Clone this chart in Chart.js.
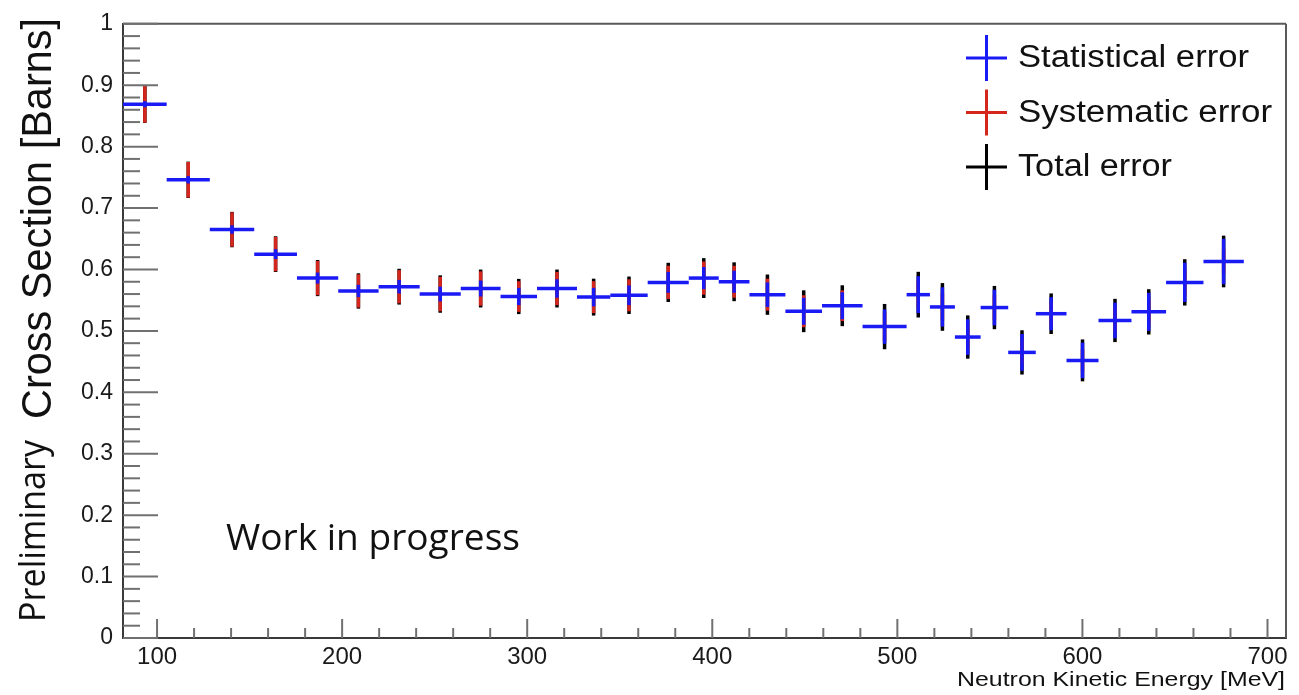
<!DOCTYPE html>
<html>
<head>
<meta charset="utf-8">
<title>Preliminary Cross Section</title>
<script src="https://cdn.jsdelivr.net/npm/chart.js@4.4.0/dist/chart.umd.min.js"></script>
<style>
html, body { margin: 0; padding: 0; background: #fff; }
canvas { display: block; }
</style>
</head>
<body>
<canvas id="chart" width="1299" height="695"></canvas>
<script>
// bin edges [MeV] (31 bins)
var binEdges = [81.6, 105.2, 128.5, 152.5, 175.6, 197.9, 219.7, 241.9, 264.1, 285.6,
    305.3, 326.9, 344.9, 365.1, 387.3, 403.5, 420.1, 439.5, 459.3, 481.2,
    505.0, 517.6, 531.1, 545.0, 559.9, 574.8, 591.4, 608.7, 626.5, 645.2,
    665.4, 687.2];
// cross section [barns]
var crossSection = [0.869, 0.746, 0.665, 0.625, 0.586, 0.565, 0.572, 0.560, 0.569, 0.556,
    0.569, 0.555, 0.558, 0.579, 0.586, 0.580, 0.559, 0.532, 0.541, 0.507,
    0.559, 0.539, 0.490, 0.538, 0.465, 0.528, 0.452, 0.517, 0.531, 0.579, 0.613];
var statErr = [0.005, 0.006, 0.007, 0.008, 0.009, 0.010, 0.011, 0.012, 0.013, 0.014,
    0.015, 0.015, 0.016, 0.017, 0.018, 0.018, 0.020, 0.022, 0.022, 0.028,
    0.030, 0.032, 0.029, 0.029, 0.030, 0.027, 0.029, 0.029, 0.031, 0.032, 0.037];
var sysErr = [0.030, 0.029, 0.028, 0.028, 0.028, 0.027, 0.027, 0.028, 0.028, 0.025,
    0.027, 0.026, 0.026, 0.027, 0.027, 0.026, 0.026, 0.026, 0.025, 0.024,
    0.022, 0.022, 0.020, 0.020, 0.020, 0.019, 0.018, 0.020, 0.020, 0.020, 0.020];
var xTicks = [100, 200, 300, 400, 500, 600, 700];
var yTicks = [0, 0.1, 0.2, 0.3, 0.4, 0.5, 0.6, 0.7, 0.8, 0.9, 1];
var seriesNames = ['Statistical error', 'Systematic error', 'Total error'];
var seriesColors = ['#1a1af5', '#d4261c', '#000000'];

// total = stat (+) sys in quadrature
var totErr = statErr.map(function(s, i) { return Math.sqrt(s * s + sysErr[i] * sysErr[i]); });
var points = crossSection.map(function(v, i) {
    return { x: (binEdges[i] + binEdges[i + 1]) / 2, y: v };
});
var errors = [statErr, sysErr, totErr];

var HELV = '"Liberation Sans", Arial, sans-serif';
var OPEN = '"Open Sans", sans-serif';

// draws text squeezed/stretched to a given width (start of baseline at x,y)
function fitText(ctx, text, x, y, family, size, width, rotate) {
    ctx.save();
    ctx.font = size + 'px ' + family;
    var w = ctx.measureText(text).width;
    ctx.translate(x, y);
    if (rotate) ctx.rotate(-Math.PI / 2);
    ctx.scale(width / w, 1);
    ctx.fillStyle = '#111';
    ctx.textAlign = 'left';
    ctx.textBaseline = 'alphabetic';
    ctx.fillText(text, 0, 0);
    ctx.restore();
}

function line(ctx, x1, y1, x2, y2) {
    ctx.beginPath();
    ctx.moveTo(x1, y1);
    ctx.lineTo(x2, y2);
    ctx.stroke();
}

// frame + inward ROOT style ticks
var frameTicks = {
    id: 'frameTicks',
    afterDraw: function(chart) {
        var ctx = chart.ctx, a = chart.chartArea;
        var xs = chart.scales.x, ys = chart.scales.y;
        ctx.save();
        ctx.strokeStyle = '#5a5a5a';
        ctx.lineWidth = 2;
        line(ctx, a.left, a.top, a.right, a.top);
        line(ctx, a.right, a.top, a.right, a.bottom);
        ctx.strokeStyle = '#707070';
        var v, p;
        for (v = 0; v <= 50; v++) { // y: every 0.02
            p = ys.getPixelForValue(v / 50);
            line(ctx, a.left, p, a.left + (v % 5 === 0 ? 35 : 17), p);
        }
        for (v = 100; v <= 700; v += 20) { // x: every 20 MeV
            p = xs.getPixelForValue(v);
            line(ctx, p, a.bottom, p, a.bottom - (v % 100 === 0 ? 19 : 10));
        }
        ctx.restore();
    }
};

// error bar crosses: total (black) under sys (red) under stat (blue)
var errorBars = {
    id: 'errorBars',
    afterDatasetsDraw: function(chart) {
        var ctx = chart.ctx;
        var xs = chart.scales.x, ys = chart.scales.y;
        ctx.save();
        ctx.lineWidth = 3.5;
        for (var i = 0; i < points.length; i++) {
            var px = xs.getPixelForValue(points[i].x);
            for (var k = 2; k >= 0; k--) {
                ctx.strokeStyle = seriesColors[k];
                line(ctx, px, ys.getPixelForValue(points[i].y - errors[k][i]),
                     px, ys.getPixelForValue(points[i].y + errors[k][i]));
            }
            var py = ys.getPixelForValue(points[i].y);
            ctx.strokeStyle = seriesColors[0];
            line(ctx, xs.getPixelForValue(binEdges[i]), py, xs.getPixelForValue(binEdges[i + 1]), py);
        }
        ctx.restore();
    }
};

// legend in the upper right corner + free texts
var labels = {
    id: 'labels',
    afterDraw: function(chart) {
        var ctx = chart.ctx;
        var rows = [58, 112.5, 167];
        var widths = [231, 254, 154];
        ctx.save();
        ctx.lineWidth = 3;
        for (var k = 0; k < 3; k++) {
            ctx.strokeStyle = seriesColors[k];
            line(ctx, 966, rows[k], 1007, rows[k]);
            line(ctx, 986.5, rows[k] - 23, 986.5, rows[k] + 23);
            fitText(ctx, seriesNames[k], 1018, rows[k] + 9, HELV, 31, widths[k]);
        }
        ctx.restore();
        fitText(ctx, 'Preliminary', 45, 622, OPEN, 37, 182, true);
        fitText(ctx, 'Cross Section [Barns]', 51, 419, HELV, 42, 401, true);
        fitText(ctx, 'Work in progress', 226, 550, OPEN, 36, 294);
        fitText(ctx, 'Neutron Kinetic Energy [MeV]', 957, 686, HELV, 21, 328);
    }
};

var chart = new Chart(document.getElementById('chart'), {
    type: 'scatter',
    data: {
        datasets: seriesNames.map(function(name, k) {
            return { label: name, data: points, borderColor: seriesColors[k],
                     backgroundColor: seriesColors[k], pointRadius: 0, showLine: false };
        })
    },
    options: {
        responsive: false,
        animation: false,
        layout: { padding: { top: 12, right: 13, left: 0, bottom: 0 } },
        plugins: { legend: { display: false }, tooltip: { enabled: false } },
        scales: {
            x: {
                type: 'linear', min: 81.6, max: 710,
                afterBuildTicks: function(s) { s.ticks = xTicks.map(function(v) { return { value: v }; }); },
                afterFit: function(s) { s.height = 57; },
                grid: { display: false, drawTicks: false },
                border: { display: true, color: '#3a3a3a', width: 2 },
                ticks: { font: { family: HELV, size: 24 }, color: '#1a1a1a', padding: 5, maxRotation: 0, autoSkip: false }
            },
            y: {
                type: 'linear', min: 0, max: 1,
                afterBuildTicks: function(s) { s.ticks = yTicks.map(function(v) { return { value: v }; }); },
                afterFit: function(s) { s.width = 123; },
                grid: { display: false, drawTicks: false },
                border: { display: true, color: '#3a3a3a', width: 2 },
                ticks: {
                    font: { family: HELV, size: 23 }, color: '#1a1a1a', padding: 10, autoSkip: false,
                    callback: function(v) { return String(Math.round(v * 10) / 10); }
                }
            }
        }
    },
    plugins: [frameTicks, errorBars, labels]
});
</script>
</body>
</html>
